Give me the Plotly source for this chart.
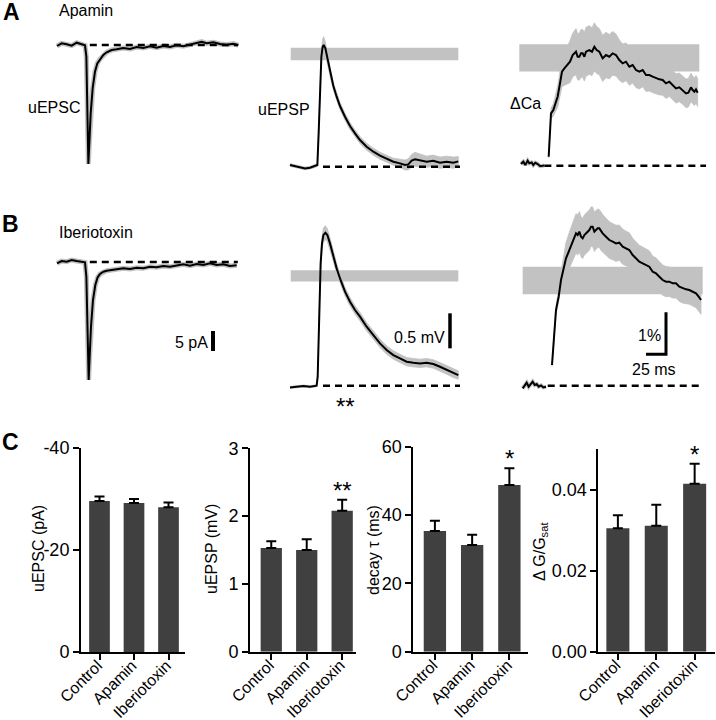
import plotly.graph_objects as go

W, H = 716, 720
FONT = "Liberation Sans, Arial, sans-serif"
GRAY = "#c2c2c2"
BARC = "#404040"

# ================= DATA =================
categories = ["Control", "Apamin", "Iberiotoxin"]
uepsc_mean = [-29.6, -29.2, -28.4]
uepsc_sem = [0.9, 0.8, 0.9]
uepsp_mean = [1.53, 1.50, 2.08]
uepsp_sem = [0.10, 0.16, 0.16]
decay_mean = [35.3, 31.2, 48.8]
decay_sem = [3.0, 3.0, 4.9]
dg_mean = [0.0305, 0.0311, 0.0415]
dg_sem = [0.0032, 0.0052, 0.0049]
uepsp_sig = ["", "", "**"]
decay_sig = ["", "", "*"]
dg_sig = ["", "", "*"]

uepsc_ticks = [0, -20, -40]
uepsp_ticks = [0, 1, 2, 3]
decay_ticks = [0, 20, 40, 60]
dg_ticks = [0.0, 0.02, 0.04]

# uEPSC traces (time ms, current pA)
ec_a_t = [0, 5.8, 12.1, 18.3, 24.6, 30.8, 35, 36.7, 37.9, 39.2, 40.4, 42.1, 44.6, 47.5, 50.4,
          53.75, 57.9, 62.1, 68.3, 74.6, 82.9, 91.25, 99.6, 107.9, 116.25, 124.6, 132.9, 141.25,
          149.6, 157.9, 166.25, 174.6, 180.8, 187.1, 195.4, 203.75, 212.1, 220.4, 226.7]
ec_a_i = [-0.25, 0.42, 0.17, -0.17, 0.58, 0.08, -0.08, -2.9, -13.75, -29.75, -24.6, -17.1, -10.8,
          -6.67, -4.58, -3.5, -2.5, -1.83, -1.25, -1.08, -0.75, -1.0, -0.5, -0.75, -0.33, -0.67,
          -0.25, -0.5, -0.08, -0.33, 0.08, 0.42, 0.83, 0.42, 0.67, 0.25, 0.08, 0.33, -0.08]
ec_b_t = [0, 5.8, 12.1, 18.3, 24.6, 30.8, 35, 36.7, 37.9, 39.6, 40.8, 42.5, 45, 47.9, 50.8, 53.75,
          57.9, 62.1, 68.3, 74.6, 82.9, 91.25, 99.6, 107.9, 116.25, 124.6, 132.9, 141.25, 149.6,
          157.9, 166.25, 174.6, 182.9, 191.25, 199.6, 207.9, 216.25, 224.6]
ec_b_i = [-0.33, 0.25, 0.08, 0.5, 0.25, 0.08, -0.08, -3.67, -13.67, -29.5, -23.67, -16.17, -9.5,
          -5.75, -3.83, -3.0, -2.42, -2.17, -2.0, -1.75, -1.58, -1.75, -1.42, -1.58, -1.17, -1.33,
          -1.0, -1.17, -0.83, -0.58, -0.92, -0.5, -0.75, -0.33, -0.75, -0.58, -1.0, -0.83]
ec_dash_t = [41, 226]

# uEPSP traces (time ms, mV)
ep_a_t = [0, 6.25, 12.5, 18.75, 25, 31.25, 34.2, 35.8, 37.5, 39.2, 40.8, 42.1, 44.2, 46.7, 50,
          54.2, 58.3, 62.5, 68.75, 75, 81.25, 87.5, 95.8, 104.2, 112.5, 120.8, 129.2, 137.5,
          143.75, 147.9, 152.1, 156.25, 162.5, 170.8, 179.2, 187.5, 195.8, 204.2, 210.4]
ep_a_v = [0.024, 0.010, -0.010, -0.024, -0.014, 0.010, 0.024, 0.476, 1.143, 1.571, 1.714, 1.738,
          1.690, 1.548, 1.357, 1.152, 1.0, 0.867, 0.714, 0.581, 0.476, 0.381, 0.286, 0.214, 0.157,
          0.110, 0.071, 0.048, 0.024, 0.033, 0.086, 0.105, 0.095, 0.071, 0.086, 0.057, 0.071,
          0.057, 0.076]
ep_a_sem = [0.02, 0.02, 0.02, 0.02, 0.02, 0.02, 0.02, 0.03, 0.05, 0.08, 0.11, 0.12, 0.09, 0.07,
            0.06, 0.05, 0.05, 0.05, 0.05, 0.05, 0.05, 0.05, 0.05, 0.05, 0.05, 0.05, 0.05, 0.06,
            0.07, 0.08, 0.09, 0.10, 0.09, 0.08, 0.08, 0.08, 0.08, 0.08, 0.07]
ep_b_t = [0, 8.3, 16.7, 25, 33.3, 34.6, 35.8, 37.1, 38.3, 40, 41.7, 44.2, 46.7, 50, 54.2, 58.3,
          62.5, 68.75, 75, 81.25, 87.5, 95.8, 104.2, 112.5, 120.8, 129.2, 137.5, 145.8, 154.2,
          162.5, 170.8, 179.2, 187.5, 195.8, 204.2, 210.4]
ep_b_v = [-0.024, -0.014, -0.005, -0.014, 0, 0.129, 0.652, 1.319, 1.748, 2.033, 2.152, 2.186,
          2.152, 2.033, 1.843, 1.676, 1.533, 1.343, 1.2, 1.081, 0.986, 0.843, 0.724, 0.605, 0.510,
          0.438, 0.390, 0.343, 0.329, 0.319, 0.329, 0.310, 0.271, 0.224, 0.176, 0.152]
ep_b_sem = [0.015, 0.015, 0.015, 0.015, 0.015, 0.02, 0.04, 0.06, 0.08, 0.09, 0.10, 0.10, 0.09,
            0.08, 0.07, 0.07, 0.06, 0.06, 0.06, 0.06, 0.06, 0.06, 0.06, 0.06, 0.06, 0.06, 0.06,
            0.06, 0.06, 0.06, 0.06, 0.06, 0.06, 0.06, 0.06, 0.06]
ep_band_t = [0.9, 210.4]
ep_band_a = [1.52, 1.70]
ep_band_b = [1.49, 1.65]
ep_dash_t = [41.25, 212.5]

# dCa traces (time ms, % dG/Gsat)
ca_a_base_t = [0, 2.9, 5.4, 8.3, 10.4, 13.3, 15.4, 17.9, 20.8, 23.75, 27.1, 29.2]
ca_a_base_v = [0.040, 0.095, 0.016, 0.119, 0.056, 0.079, 0.016, 0.071, 0.040, -0.008, 0, 0.008]
ca_a_t = [34.6, 36.25, 37.5, 40.4, 42.9, 45.8, 48.75, 51.25, 54.2, 58.3, 61.25, 64.6, 68.75, 70.8,
          72.9, 75, 77.1, 79.2, 81.25, 85.4, 88.75, 91.7, 94.6, 97.9, 102.1, 106.25, 110.4, 114.6,
          118.75, 122.9, 127.1, 131.25, 135.4, 139.6, 143.75, 147.9, 152.1, 156.25, 160.4, 164.6,
          168.75, 172.9, 177.1, 181.25, 185.4, 189.6, 193.75, 197.9, 202.1, 206.25, 209.2, 212.5,
          214.6, 216.7, 218.75, 220.8]
ca_a_v = [0.214, 0.929, 1.246, 1.325, 1.484, 1.643, 1.960, 2.238, 2.317, 2.397, 2.476, 2.635,
          2.714, 2.595, 2.595, 2.675, 2.675, 2.595, 2.714, 2.754, 2.714, 2.833, 2.754, 2.714, 2.556,
          2.635, 2.595, 2.675, 2.635, 2.516, 2.437, 2.476, 2.357, 2.397, 2.278, 2.238, 2.278, 2.159,
          2.159, 2.119, 2.079, 2.056, 2.040, 1.960, 2.0, 1.921, 1.841, 1.865, 1.802, 1.722, 1.738,
          1.865, 1.802, 1.762, 1.817, 1.738]
ca_a_sem = [0.03, 0.08, 0.12, 0.15, 0.2, 0.25, 0.3, 0.35, 0.4, 0.45, 0.5, 0.52, 0.55, 0.55, 0.56,
            0.57, 0.57, 0.58, 0.58, 0.58, 0.57, 0.57, 0.56, 0.55, 0.55, 0.54, 0.53, 0.52, 0.5, 0.48,
            0.46, 0.45, 0.44, 0.43, 0.42, 0.41, 0.4, 0.39, 0.38, 0.38, 0.37, 0.37, 0.36, 0.36,
            0.35, 0.35, 0.35, 0.34, 0.34, 0.34, 0.34, 0.34, 0.33, 0.33, 0.33, 0.33]
ca_b_base_t = [2.1, 5.0, 7.1, 9.6, 12.5, 14.6, 17.1, 19.6, 22.1, 25, 27.9, 31.25]
ca_b_base_v = [-0.063, 0.016, 0.071, -0.024, 0.056, 0.095, 0.016, 0.040, -0.024, 0.008, -0.040,
               -0.024]
ca_b_t = [38.75, 40.4, 41.7, 43.75, 45.4, 47.1, 50, 52.9, 56.25, 60.4, 64.6, 68.75, 70.8, 72.9,
          75, 77.1, 79.2, 81.25, 83.3, 85.4, 87.5, 89.6, 91.7, 93.75, 95.8, 97.9, 100, 102.1,
          106.25, 110.4, 114.6, 118.75, 122.9, 127.1, 131.25, 135.4, 139.6, 143.75, 147.9, 152.1,
          156.25, 160.4, 164.6, 168.75, 172.9, 177.1, 181.25, 185.4, 189.6, 193.75, 197.9, 202.1,
          206.25, 210.4, 214.6, 218.75, 222.1, 225]
ca_b_v = [0.492, 1.008, 1.246, 1.802, 1.960, 2.119, 2.516, 2.754, 3.032, 3.230, 3.429, 3.627,
          3.587, 3.667, 3.548, 3.508, 3.587, 3.627, 3.667, 3.706, 3.786, 3.786, 3.667, 3.706,
          3.746, 3.746, 3.667, 3.627, 3.548, 3.468, 3.429, 3.389, 3.405, 3.310, 3.270, 3.230,
          3.111, 3.032, 2.952, 2.913, 2.873, 2.833, 2.714, 2.675, 2.595, 2.516, 2.476, 2.476,
          2.437, 2.437, 2.357, 2.317, 2.294, 2.278, 2.238, 2.198, 2.119, 2.040]
ca_b_sem = [0.03, 0.06, 0.08, 0.1, 0.12, 0.15, 0.2, 0.28, 0.38, 0.42, 0.45, 0.47, 0.48, 0.48,
            0.48, 0.48, 0.48, 0.48, 0.48, 0.48, 0.47, 0.47, 0.47, 0.46, 0.46, 0.45, 0.45, 0.45,
            0.44, 0.44, 0.43, 0.43, 0.42, 0.42, 0.41, 0.41, 0.4, 0.4, 0.39, 0.39, 0.38, 0.38,
            0.37, 0.37, 0.36, 0.36, 0.36, 0.35, 0.35, 0.35, 0.35, 0.35, 0.34, 0.34, 0.34, 0.34,
            0.34, 0.34]
ca_band_a_t = [-2.1, 222.9]
ca_band_a = [2.24, 2.89]
ca_band_b_t = [2.1, 227.1]
ca_band_b = [2.18, 2.83]
ca_dash_a_t = [29.2, 231.25]
ca_dash_b_t = [33.4, 227]

# scale bars
sb_pa = 5.0
sb_mv = 0.5
sb_pct = 1.0
sb_ms = 25.0

# ================= FIGURE =================
fig = go.Figure()


def xa(n):
    return "x" if n == 1 else "x%d" % n


def ya(n):
    return "y" if n == 1 else "y%d" % n


def xkey(n):
    return "xaxis" if n == 1 else "xaxis%d" % n


def ykey(n):
    return "yaxis" if n == 1 else "yaxis%d" % n


def trace_axes(n, box, origin, scale):
    l, r, t, b = box
    ox, oy = origin
    sx, sy = scale
    fig.update_layout(**{
        xkey(n): dict(domain=[l / W, r / W], range=[(l - ox) / sx, (r - ox) / sx],
                      visible=False, anchor=ya(n), fixedrange=True, automargin=False),
        ykey(n): dict(domain=[1 - b / H, 1 - t / H], range=[(oy - b) / sy, (oy - t) / sy],
                      visible=False, anchor=xa(n), fixedrange=True, automargin=False),
    })


def add_line(n, t, v, width=2.0, color="black", dash=None):
    fig.add_trace(go.Scatter(x=t, y=v, mode="lines", xaxis=xa(n), yaxis=ya(n),
                             line=dict(width=width, color=color, dash=dash),
                             hoverinfo="skip"))


def add_band(n, t, v, sem):
    up = [a + b for a, b in zip(v, sem)]
    lo = [a - b for a, b in zip(v, sem)]
    fig.add_trace(go.Scatter(x=list(t) + list(t)[::-1], y=up + lo[::-1], mode="lines",
                             fill="toself", fillcolor=GRAY, line=dict(width=0.8, color=GRAY),
                             xaxis=xa(n), yaxis=ya(n), hoverinfo="skip"))


def add_rect(n, t, yy):
    fig.add_shape(type="rect", xref=xa(n), yref=ya(n), x0=t[0], x1=t[1], y0=yy[0], y1=yy[1],
                  fillcolor=GRAY, line=dict(width=0), layer="below")


DASH = "7px,5px"

# --- uEPSC panels ---
trace_axes(1, (45, 250, 25, 180), (57, 45), (0.8, 4))
trace_axes(2, (45, 250, 240, 400), (57, 262), (0.8, 4))
for n, t, i in [(1, ec_a_t, ec_a_i), (2, ec_b_t, ec_b_i)]:
    add_line(n, t, i, width=5, color=GRAY)
    add_line(n, ec_dash_t, [0, 0], width=2.5, dash=DASH)
    add_line(n, t, i, width=2)
# 5 pA scale bar
add_line(2, [195, 195], [-17.25, -17.25 - sb_pa], width=4)

# --- uEPSP panels ---
trace_axes(3, (280, 475, 25, 185), (290, 166.7), (0.8, 70))
trace_axes(4, (280, 475, 215, 420), (290, 385.7), (0.8, 70))
add_rect(3, ep_band_t, ep_band_a)
add_rect(4, ep_band_t, ep_band_b)
for n, t, v, s in [(3, ep_a_t, ep_a_v, ep_a_sem), (4, ep_b_t, ep_b_v, ep_b_sem)]:
    add_band(n, t, v, s)
    add_line(n, ep_dash_t, [0, 0], width=2.5, dash=DASH)
    add_line(n, t, v, width=2)
add_line(4, [200, 200], [0.534, 0.534 + sb_mv], width=3.5)

# --- dCa panels ---
trace_axes(5, (505, 712, 15, 185), (521, 165.7), (0.8, 42))
trace_axes(6, (505, 712, 205, 400), (521, 385.7), (0.8, 42))
add_rect(5, ca_band_a_t, ca_band_a)
add_rect(6, ca_band_b_t, ca_band_b)
for n, bt, bv, t, v, s, dt in [(5, ca_a_base_t, ca_a_base_v, ca_a_t, ca_a_v, ca_a_sem, ca_dash_a_t),
                               (6, ca_b_base_t, ca_b_base_v, ca_b_t, ca_b_v, ca_b_sem, ca_dash_b_t)]:
    add_band(n, t, v, s)
    add_line(n, bt, bv, width=4, color=GRAY)
    add_line(n, dt, [0, 0], width=2.5, dash=DASH)
    add_line(n, bt, bv, width=2)
    add_line(n, t, v, width=2)
# 1 % / 25 ms scale bar
sb_t = 181.25
sb_v = 0.75
add_line(6, [sb_t - sb_ms, sb_t, sb_t], [sb_v, sb_v, sb_v + sb_pct], width=3)

# --- bar charts ---
bar_specs = [
    (7, uepsc_mean, uepsc_sem, (81, 185), [-0.536, 2.478], (448, 652), [0, -40], uepsc_ticks,
     [str(v) for v in uepsc_ticks], ["", "", ""]),
    (8, uepsp_mean, uepsp_sem, (250, 356), [-0.6, 2.39], (448.3, 651.7), [0, 3], uepsp_ticks,
     [str(v) for v in uepsp_ticks], uepsp_sig),
    (9, decay_mean, decay_sem, (413.3, 528), [-0.58, 2.5], (446.7, 651.7), [0, 60], decay_ticks,
     [str(v) for v in decay_ticks], decay_sig),
    (10, dg_mean, dg_sem, (598.3, 715), [-0.51, 2.53], (449.3, 651.7), [0, 0.05], dg_ticks,
     ["%.2f" % v for v in dg_ticks], dg_sig),
]

for n, means, sems, xd, xr, yd, yr, tv, tt, sig in bar_specs:
    neg = yr[1] < 0
    zeros = [0] * len(sems)
    fig.add_trace(go.Bar(
        x=categories, y=means, width=0.6, marker=dict(color=BARC, line=dict(width=0)),
        xaxis=xa(n), yaxis=ya(n), hoverinfo="skip",
        error_y=dict(type="data", symmetric=False,
                     array=zeros if neg else sems, arrayminus=sems if neg else zeros,
                     color="black", thickness=2, width=5),
    ))
    fig.update_layout(**{
        xkey(n): dict(domain=[xd[0] / W, xd[1] / W], range=xr, anchor=ya(n), type="category",
                      showline=True, linecolor="black", linewidth=2, ticks="outside",
                      ticklen=6, tickwidth=2, tickcolor="black", tickangle=-45,
                      ticklabelstandoff=-10, ticklabelshift=-2,
                      tickfont=dict(size=16, family=FONT, color="black"), showgrid=False,
                      zeroline=False, fixedrange=True, automargin=False),
        ykey(n): dict(domain=[1 - yd[1] / H, 1 - yd[0] / H], range=yr, anchor=xa(n),
                      showline=True, linecolor="black", linewidth=2, ticks="outside",
                      ticklen=6, tickwidth=2, tickcolor="black", tickvals=tv, ticktext=tt,
                      tickfont=dict(size=18, family=FONT, color="black"), showgrid=False,
                      zeroline=False, fixedrange=True, automargin=False),
    })
    for c, m, s, lab in zip(categories, means, sems, sig):
        if lab:
            fig.add_annotation(x=c, y=m + s, xref=xa(n), yref=ya(n), text=lab, showarrow=False,
                               xanchor="center", yanchor="bottom", yshift=-6,
                               font=dict(size=24, family=FONT, color="black"))

# ================= TEXT =================
def ptext(x, y, text, size=16, xanchor="left", bold=False, angle=0):
    fig.add_annotation(x=x / W, y=1 - y / H, xref="paper", yref="paper",
                       text=("<b>%s</b>" % text) if bold else text, showarrow=False,
                       xanchor=xanchor, yanchor="middle", textangle=angle,
                       font=dict(size=size, family=FONT, color="black"))


ptext(11, 12, "A", size=23, xanchor="center", bold=True)
ptext(10, 224, "B", size=23, xanchor="center", bold=True)
ptext(10, 442, "C", size=23, xanchor="center", bold=True)
ptext(57, 11, "Apamin")
ptext(57, 233, "Iberiotoxin")
ptext(26, 107, "uEPSC")
ptext(256, 109, "uEPSP")
ptext(508, 104, "ΔCa")
ptext(173, 342, "5 pA")
ptext(392, 337, "0.5 mV")
ptext(636, 335, "1%")
ptext(654, 370, "25 ms", xanchor="center")
# ** under Iberiotoxin uEPSP
fig.add_annotation(x=68.75, y=-0.3, xref=xa(4), yref=ya(4), text="**", showarrow=False,
                   xanchor="center", yanchor="middle", font=dict(size=24, family=FONT))

# y-axis titles of bar charts
ptext(38, 549, "uEPSC (pA)", xanchor="center", angle=-90)
ptext(211, 549, "uEPSP (mV)", xanchor="center", angle=-90)
ptext(373, 550, "decay τ (ms)", xanchor="center", angle=-90)
ptext(540, 552, "Δ G/G<sub>sat</sub>", xanchor="center", angle=-90)

fig.update_layout(width=W, height=H, margin=dict(l=0, r=0, t=0, b=0, autoexpand=False),
                  paper_bgcolor="white", plot_bgcolor="rgba(0,0,0,0)", showlegend=False,
                  font=dict(family=FONT, size=16, color="black"), barmode="group")

fig.write_html("out.html", config={"displayModeBar": False},
               post_script="document.body.style.margin='0px';")
